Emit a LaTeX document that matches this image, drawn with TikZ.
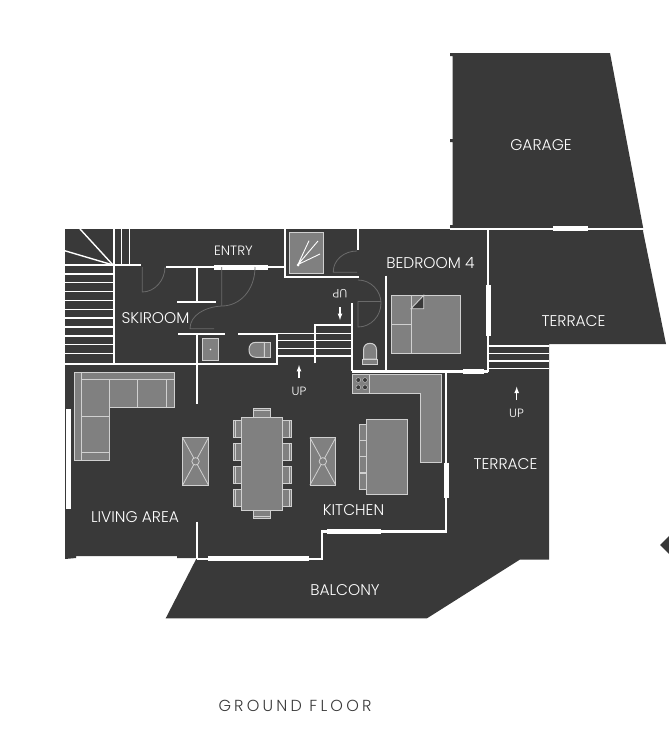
\documentclass[tikz,border=0pt]{standalone}
\usepackage{fontspec}
\setmainfont{Poppins}[UprightFont=* Light]
\newfontfamily\titlefont{Poppins}[UprightFont=* Light,LetterSpace=20]
\definecolor{planbg}{HTML}{393939}
\definecolor{furn}{HTML}{808080}
\definecolor{furnline}{HTML}{D0D0D0}
\definecolor{doorline}{HTML}{6A6A6A}
\tikzset{
  wall/.style={draw=white,line width=2.2pt},
  thinwall/.style={draw=white,line width=1.4pt},
  window/.style={draw=white,line width=5pt},
  door/.style={draw=doorline,line width=0.8pt},
  piece/.style={draw=furnline,fill=furn,line width=1pt},
  roomlabel/.style={text=white,font=\fontsize{15.5}{16}\selectfont,inner sep=0pt},
  uplabel/.style={text=white,font=\fontsize{12}{12}\selectfont,inner sep=0pt},
  uparrow/.style={draw=white,line width=1.2pt,-latex},
}
\begin{document}
\begin{tikzpicture}[x=1pt,y=-1pt]
        \useasboundingbox (0,0) rectangle (669,736);
        % silhouette
        \fill[planbg] (65,229) -- (450,229) -- (450,225) -- (452.5,225) -- (452.5,142) -- (450,142) -- (450,139)
              -- (452.5,139) -- (452.5,56) -- (450,56) -- (450,53) -- (610,53) -- (643,227) -- (643,231)
              -- (666,344) -- (549,344) -- (549,559.5) -- (520,559.5) -- (427,618.3) -- (165.7,618.3) -- (196.7,558)
              -- (177,558) -- (177,556) -- (76,556) -- (76,558) -- (65,559) -- cycle;
        \fill[planbg] (660,545) -- (669,536) -- (669,554) -- cycle;
        % walls
        \begin{scope}[every path/.style={wall}]
        \draw (113.7,229) -- (113.7,364);
        \draw (64,364) -- (277,364) -- (277,334) -- (238,334);
        \draw (178,334) -- (225,334);
        \draw (64,265) -- (141,265);
        \draw (166,267) -- (285,267);
        \draw (196.7,267) -- (196.7,302);
        \draw (177,302) -- (216,302);
        \draw (196.7,334) -- (196.7,404);
        \draw (285,229) -- (285,277) -- (359,277);
        \draw (357.7,229) -- (357.7,250);
        \draw (352.3,303.3) -- (352.3,371);
        \draw (385.6,275.7) -- (385.6,371);
        \draw (352,371.5) -- (488,371.5);
        \draw (487.8,229) -- (487.8,372);
        \draw (450,228.7) -- (644,228.7);
        \draw (446,371.5) -- (446,531.5) -- (322,531.5) -- (322,558.7) -- (197,558.7);
        \draw (197,521.7) -- (197,559);
        \draw (315,363.3) -- (315,325) -- (352,325);
        \end{scope}
        % stairs
        \begin{scope}[every path/.style={thinwall}]
        \foreach \sy in {274,282.7,291.7,300.7,309.3,318,327,336,344.7,353.3}
            \draw (64,\sy) -- (113,\sy);
        \foreach \sx in {121.7,129.7}
            \draw (\sx,229) -- (\sx,265);
        \draw (113,265) -- (80,229);
        \draw (113,265) -- (64,250.5);
        \foreach \sy in {333.3,340.7,348.3,356}
            \draw (277,\sy) -- (352,\sy);
        \foreach \sy in {346,353.3,361,368.3}
            \draw (488,\sy) -- (549,\sy);
        \end{scope}
        % windows
        \begin{scope}[every path/.style={window}]
        \draw (214,267) -- (268,267);
        \draw (488.3,285) -- (488.3,336);
        \draw (463,371.5) -- (484,371.5);
        \draw (553,228.7) -- (588,228.7);
        \draw (446,462.7) -- (446,498.3);
        \draw (327,531.5) -- (381,531.5);
        \draw (208,558.5) -- (309,558.5);
        \draw (68,409) -- (68,509);
        \end{scope}
        % doors
        \begin{scope}[every path/.style={door}]
        \draw (142.3,267) -- (142.3,292) .. controls (155,292) and (165,280) .. (165,267);
        \draw (221.7,267) -- (221.7,306) .. controls (240,306) and (255,290) .. (255,267);
        \draw (214,328.7) -- (190,328.7) .. controls (190,315) and (205,307) .. (221.7,306);
        \draw (357,272.3) -- (333.3,272.3) .. controls (333,260) and (344,251) .. (357,251);
        \draw (358,280) .. controls (371,280) and (381,291) .. (381,303) .. controls (381,316) and (371,327) .. (358,327) -- (358,301.5) -- (381,301.5);
        \end{scope}
        % sofa
        \draw[piece] (74.3,372.3) -- (174.3,372.3) -- (174.3,407.7) -- (109.3,407.7) -- (109.3,460.3) -- (74.3,460.3) -- cycle;
        \draw[furnline,line width=0.9pt] (81,379.3) -- (174.3,379.3) (81,372.3) -- (81,460.3) (109.3,379.3) -- (109.3,408)
              (137,379.3) -- (137,408) (166,379.3) -- (166,408) (81,416.7) -- (109.3,416.7);
        \draw[furnline,line width=1.6pt] (81,452.5) -- (109.3,452.5);
        % tables
        \foreach \tx/\ty in {182.7/437.7,310/437.7} {
            \draw[piece] (\tx,\ty) rectangle ++(25.7,47.3);
            \draw[furnline,line width=0.8pt] (\tx,\ty) -- ++(25.7,47.3) (\tx+25.7,\ty) -- ++(-25.7,47.3);
            \draw[furnline,fill=furn,line width=0.8pt] (\tx+12.85,\ty+23.65) circle (3.7);
        }
        \draw[piece] (241.7,417) rectangle (282.3,510.3);
        \foreach \cy in {420.3,443.3,466.3,489.3} {
            \draw[piece] (233.3,\cy) rectangle (241.7,\cy+16.7);
            \draw[furnline,line width=0.7pt] (235.5,\cy) -- (235.5,\cy+16.7);
            \draw[piece] (282.3,\cy) rectangle (291.7,\cy+16.7);
            \draw[furnline,line width=0.7pt] (289.3,\cy) -- (289.3,\cy+16.7);
        }
        \draw[piece] (253.3,408.3) rectangle (270.3,417);
        \draw[furnline,line width=0.7pt] (253.3,410.5) -- (270.3,410.5);
        \draw[piece] (253.3,510.3) rectangle (270.3,518.7);
        \draw[furnline,line width=0.7pt] (253.3,516.3) -- (270.3,516.3);
        % kitchen
        \draw[piece] (352.3,374.3) -- (441.7,374.3) -- (441.7,462) -- (420.7,462) -- (420.7,393.3) -- (352.3,393.3) -- cycle;
        \draw[furnline,line width=0.6pt] (352.3,374.3) rectangle (369,393.3);
        \foreach \hx in {358.3,365} \foreach \hy in {380,387.3}
            \draw[furnline,line width=0.4pt,fill=planbg] (\hx,\hy) circle (2.4);
        \draw[piece] (366.3,419) rectangle (407.3,494.3);
        \foreach \cy in {424.3,440.5,456.7,473} {
            \draw[piece,line width=0.6pt] (359.3,\cy) rectangle (366.3,\cy+16);
        }
        % bathrooms
        \draw[piece] (202.7,338.3) rectangle (218.3,360.7);
        \fill[white] (210.5,349.5) circle (0.8);
        \draw[piece] (264.3,342.3) -- (264.3,357.3) -- (256,357.3) .. controls (251,357.3) and (249,354) .. (249,349.8)
              .. controls (249,345.5) and (251,342.3) .. (256,342.3) -- cycle;
        \draw[piece] (264.3,342.3) rectangle (270.3,357.3);
        \draw[piece] (363.5,359) -- (363.5,350) .. controls (363.5,345.5) and (366.5,343.3) .. (370,343.3)
              .. controls (373.5,343.3) and (376.5,345.5) .. (376.5,350) -- (376.5,359) -- cycle;
        \draw[piece] (362.3,359) rectangle (377.7,364.3);
        \draw[piece] (289.3,232.7) rectangle (323.7,273.3);
        \draw[white,line width=0.9pt] (298,264.5) -- (309,240.7) (298,264.5) -- (318,241) (298,264.5) -- (320,254);
        \fill[white] (298,265) circle (1.5);
        % bed
        \draw[piece] (391.7,295.3) rectangle (460,353.3);
        \draw[furnline,line width=1pt] (411,295.3) -- (411,353.3) (391.7,324.3) -- (411,324.3);
        \draw[furnline,line width=0.9pt,fill=planbg] (411,308.7) -- (423.7,308.7) -- (423.7,295.3) -- cycle;
        % arrows
        \draw[uparrow] (299,378) -- (299,365);
        \draw[uparrow] (340,307) -- (340,320);
        \draw[uparrow] (516.7,400) -- (516.7,386.7);
        % labels
        \node[roomlabel] (garage) at (541,145) {GARAGE};
        \node[roomlabel,font=\fontsize{13.5}{14}\selectfont] (entry) at (233.5,251) {ENTRY};
        \node[roomlabel] (skiroom) at (155.5,318) {SKIROOM};
        \node[roomlabel] (bedroom) at (430.5,263) {BEDROOM 4};
        \node[roomlabel] (terraceup) at (573.5,321.5) {TERRACE};
        \node[roomlabel] (terracelow) at (505.5,464) {TERRACE};
        \node[roomlabel] (living) at (135,517) {LIVING AREA};
        \node[roomlabel] (kitchen) at (353.5,510) {KITCHEN};
        \node[roomlabel] (balcony) at (345,590) {BALCONY};
        \node[uplabel] (upmid) at (299,391.5) {UP};
        \node[uplabel] (upterrace) at (516.5,413) {UP};
        \node[uplabel,rotate=180] (updown) at (340,294) {UP};
        \node[text=planbg,inner sep=0pt,font=\titlefont\fontsize{16}{16}\selectfont] (title) at (295,706) {GROUND FLOOR};
\end{tikzpicture}
\end{document}
